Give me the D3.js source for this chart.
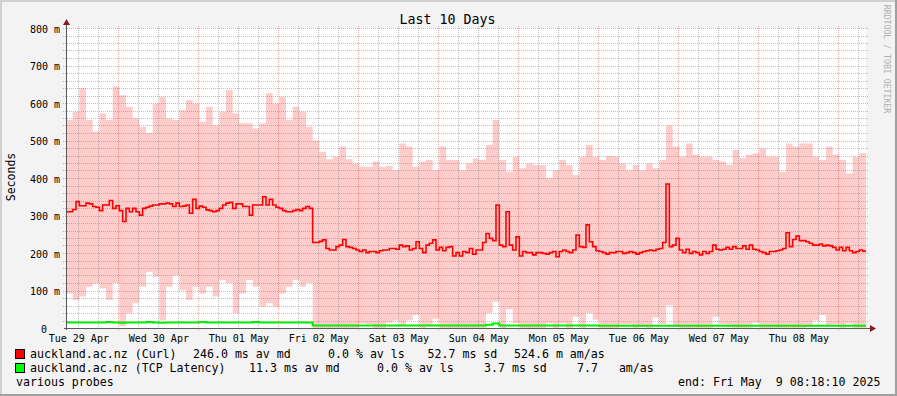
<!DOCTYPE html>
<html><head><meta charset="utf-8">
<script src="https://cdn.jsdelivr.net/npm/d3@7"></script>
<style>
html,body{margin:0;padding:0;background:#f3f3f3;}
svg{display:block;}
text{font-family:"DejaVu Sans Mono",monospace;}
</style>
</head><body>
<svg id="chart" width="897" height="396"></svg>
<script>
// ---------------- data ----------------
const chartTitle = "Last 10 Days";
const yAxisTitle = "Seconds";
const watermark = "RRDTOOL / TOBI OETIKER";
const startTime = Date.UTC(2025, 3, 29, 8, 18, 10);
const endTime = Date.UTC(2025, 4, 9, 8, 18, 10);
const yTickValues = [0, 100, 200, 300, 400, 500, 600, 700, 800];

// hourly median of Curl probe (ms)
const curlMedian = [
  310,310,316,337,326,326,333,331,324,322,
  313,328,328,340,319,326,313,284,319,310,
  319,310,301,319,322,325,328,328,331,331,
  333,331,324,333,324,325,328,306,343,319,
  325,322,315,313,310,313,319,328,333,335,
  319,331,331,324,324,301,328,328,328,350,
  328,343,328,322,319,313,310,310,313,316,
  313,319,324,319,228,228,231,235,212,208,
  208,217,221,236,217,215,212,208,204,208,
  201,204,204,201,206,208,208,212,212,210,
  221,217,219,208,212,230,212,201,221,226,
  235,208,215,206,215,217,192,201,192,204,
  201,212,197,208,208,228,252,239,233,328,
  221,217,310,221,208,243,192,204,201,201,
  195,201,201,199,197,201,204,190,204,208,
  204,201,208,248,217,215,275,230,217,206,
  204,201,197,201,201,204,204,199,201,204,
  201,197,201,204,206,208,206,210,212,228,
  384,217,221,239,208,201,210,199,204,201,
  195,204,199,204,221,210,208,210,215,210,
  217,212,212,219,210,221,210,208,204,201,
  197,204,204,206,208,212,254,217,236,245,
  233,233,230,226,221,221,224,219,221,219,
  215,208,215,206,215,206,201,204,208,205
];

// 2-hourly smoke envelope, upper and lower (ms)
const smokeTop = [
  555,577,640,555,524,572,555,644,621,590,
  559,537,520,599,617,559,555,581,608,599,
  550,590,541,577,635,572,546,546,532,546,
  626,599,617,555,590,577,537,500,470,450,
  457,484,450,439,430,430,444,430,432,421,
  492,484,430,444,448,421,484,448,448,421,
  439,452,448,488,555,448,417,457,426,439,
  435,435,400,421,448,435,408,457,488,457,
  448,459,457,439,421,435,421,439,426,448,
  540,484,457,492,462,457,457,448,444,435,
  475,453,462,466,479,457,457,417,492,484,
  492,492,457,448,484,462,448,412,457,466
];
const smokeBottom = [
  92,75,84,110,119,106,75,120,5,39,
  66,110,150,137,20,110,140,101,75,110,
  92,110,84,128,120,40,92,128,110,57,
  66,57,92,110,128,110,120,0,0,0,
  0,0,0,0,12,10,0,0,15,20,
  5,20,35,0,5,25,0,0,0,0,
  0,0,0,40,70,0,50,12,0,0,
  0,0,12,0,12,0,30,0,40,22,
  0,0,0,10,10,0,3,0,28,10,
  60,3,0,0,0,0,0,30,10,3,
  0,0,0,15,0,0,0,0,0,0,
  0,3,20,35,6,10,0,12,0,0
];

// 2-hourly TCP latency (ms)
const tcpLatency = [
  15,15,15,15,15,15,16,15,14,15,
  15,15,16,15,14,15,15,15,15,15,
  16,15,15,15,15,15,15,15,16,15,
  15,15,15,15,15,15,15,7,7,7,
  7,7,7,7,7,7,7,7,7,7,
  7,7,7,7,7,7,7,7,7,7,
  7,7,7,9,12,7,7,7,7,7,
  7,7,7,7,7,7,7,7,7,7,
  6,6,6,6,6,6,6,6,6,6,
  6,6,6,6,6,6,6,6,6,6,
  6,6,6,6,6,6,6,6,6,6,
  6,6,6,6,6,6,6,6,6,6
];

const seriesNames = ["auckland.ac.nz (Curl)", "auckland.ac.nz (TCP Latency)"];
const seriesColors = ["#ff0000", "#00f000"];
const curlStats = ["246.0 ms av md", "0.0 % av ls", "52.7 ms sd", "524.6 m am/as"];
const tcpStats = ["11.3 ms av md", "0.0 % av ls", "3.7 ms sd", "7.7   am/as"];
const footLeft = "various probes";
const footRight = "end: Fri May  9 08:18:10 2025";

// ---------------- drawing ----------------
const svg = d3.select("#chart");
const W = 897, H = 396;
const L = 66, R = 866, T = 28, B = 328;

svg.append("rect").attr("width", W).attr("height", H).attr("fill", "#f3f3f3");
svg.append("rect").attr("x", 0).attr("y", 0).attr("width", W).attr("height", 2).attr("fill", "#d0d0d0");
svg.append("rect").attr("x", 0).attr("y", 0).attr("width", 2).attr("height", H).attr("fill", "#d0d0d0");
svg.append("rect").attr("x", 0).attr("y", H - 2).attr("width", W).attr("height", 2).attr("fill", "#a0a0a0");
svg.append("rect").attr("x", W - 2).attr("y", 0).attr("width", 2).attr("height", H).attr("fill", "#a0a0a0");

const x = d3.scaleUtc().domain([startTime, endTime]).range([L, R]);
const y = d3.scaleLinear().domain([0, 800]).range([B, T]);

svg.append("rect").attr("x", L).attr("y", T).attr("width", R - L).attr("height", B - T).attr("fill", "#ffffff");

const HOUR = 3600e3;
const hourly = arr => arr.map((v, i) => ({ t: startTime + i * HOUR * (240 / arr.length), v }))
  .concat([{ t: endTime, v: arr[arr.length - 1] }]);

// smoke
const smokePts = smokeTop.map((v, i) => ({ t: startTime + i * 2 * HOUR, top: v, bot: smokeBottom[i] }))
  .concat([{ t: endTime, top: smokeTop[smokeTop.length - 1], bot: smokeBottom[smokeBottom.length - 1] }]);
svg.append("path")
  .datum(smokePts)
  .attr("fill", "#ffcccc")
  .attr("d", d3.area().curve(d3.curveStepAfter)
    .x(d => x(d.t)).y0(d => y(d.bot)).y1(d => y(d.top)));

// grid
const grid = svg.append("g");
const minorX = d3.utcHour.every(6).range(new Date(startTime), new Date(endTime)).filter(d => d.getUTCHours() !== 0);
const majorX = d3.utcDay.range(new Date(startTime), new Date(endTime));
grid.selectAll(".mx").data(minorX).join("line")
  .attr("x1", d => Math.round(x(d)) + 0.5).attr("x2", d => Math.round(x(d)) + 0.5)
  .attr("y1", T - 2).attr("y2", B)
  .attr("stroke", "rgba(130,130,130,0.5)").attr("stroke-dasharray", "1,1");
const minorY = d3.range(0, 801, 20).filter(v => v % 100 !== 0);
grid.selectAll(".my").data(minorY).join("line")
  .attr("x1", L - 3).attr("x2", R + 2)
  .attr("y1", d => Math.round(y(d)) + 0.5).attr("y2", d => Math.round(y(d)) + 0.5)
  .attr("stroke", "rgba(130,130,130,0.5)").attr("stroke-dasharray", "1,1");
grid.selectAll(".Mx").data(majorX).join("line")
  .attr("x1", d => Math.round(x(d)) + 0.5).attr("x2", d => Math.round(x(d)) + 0.5)
  .attr("y1", T - 2).attr("y2", B + 3)
  .attr("stroke", "rgba(240,60,60,0.45)").attr("stroke-dasharray", "1,1");
grid.selectAll(".My").data(yTickValues.filter(v => v > 0)).join("line")
  .attr("x1", L - 3).attr("x2", R + 2)
  .attr("y1", d => Math.round(y(d)) + 0.5).attr("y2", d => Math.round(y(d)) + 0.5)
  .attr("stroke", "rgba(240,60,60,0.45)").attr("stroke-dasharray", "1,1");

// median line
svg.append("path").datum(hourly(curlMedian))
  .attr("fill", "none").attr("stroke", seriesColors[0]).attr("stroke-width", 1.6)
  .attr("d", d3.line().curve(d3.curveStepAfter).x(d => x(d.t)).y(d => y(d.v)));
// tcp line
svg.append("path").datum(hourly(tcpLatency))
  .attr("fill", "none").attr("stroke", seriesColors[1]).attr("stroke-width", 2)
  .attr("d", d3.line().curve(d3.curveStepAfter).x(d => x(d.t)).y(d => y(d.v)));

// axes lines with arrows
svg.append("line").attr("x1", L + 0.5).attr("x2", L + 0.5).attr("y1", B + 2).attr("y2", T - 6)
  .attr("stroke", "#5a5a5a").attr("stroke-width", 1);
svg.append("line").attr("x1", L - 2).attr("x2", R + 6).attr("y1", B + 0.5).attr("y2", B + 0.5)
  .attr("stroke", "#5a5a5a").attr("stroke-width", 1);
svg.append("path").attr("d", `M${L - 3},${T - 3} L${L + 4},${T - 3} L${L + 0.5},${T - 9} Z`).attr("fill", "#8b1a1a");
svg.append("path").attr("d", `M${R + 4},${B - 3} L${R + 4},${B + 4} L${R + 10},${B + 0.5} Z`).attr("fill", "#8b1a1a");

// y axis labels
const yAxis = svg.append("g").attr("transform", `translate(${L},0)`)
  .call(d3.axisLeft(y).tickValues(yTickValues).tickSize(0).tickPadding(6)
    .tickFormat(v => v === 0 ? "0" : v + " m"));
yAxis.select(".domain").remove();
yAxis.selectAll("text").attr("font-family", "DejaVu Sans Mono").attr("font-size", 10)
  .attr("fill", "#000").attr("dy", "0.42em")
  .attr("dx", d => d === 0 ? -13 : 0);

// x axis labels
const noonTicks = d3.utcHour.range(new Date(startTime), new Date(endTime)).filter(d => d.getUTCHours() === 12);
const xAxis = svg.append("g").attr("transform", `translate(0,${B})`)
  .call(d3.axisBottom(x).tickValues(noonTicks).tickSize(0).tickFormat(d3.utcFormat("%a %d %b")));
xAxis.select(".domain").remove();
xAxis.selectAll("text").attr("font-family", "DejaVu Sans Mono").attr("font-size", 10)
  .attr("fill", "#000").attr("y", 13.5).attr("dy", 0);

// titles
svg.append("text").attr("x", 447.5).attr("y", 24).attr("text-anchor", "middle")
  .attr("font-size", 13.3).attr("fill", "#000").text(chartTitle);
svg.append("text").attr("transform", "translate(14.5,177) rotate(-90)").attr("text-anchor", "middle")
  .attr("font-size", 11.5).attr("fill", "#000").text(yAxisTitle);
svg.append("text").attr("transform", "translate(883.5,59) rotate(90)").attr("text-anchor", "middle")
  .attr("font-size", 8.2).attr("fill", "#b0b0b0").text(watermark);

// legend
const legendRows = [
  { name: seriesNames[0], color: seriesColors[0], stats: curlStats, xs: [193, 328, 427.5, 514], base: 358 },
  { name: seriesNames[1], color: "#00ff00", stats: tcpStats, xs: [249, 377, 484, 577], base: 372 }
];
legendRows.forEach(r => {
  svg.append("rect").attr("x", 15.5).attr("y", r.base - 8.5).attr("width", 9).attr("height", 9)
    .attr("fill", r.color).attr("stroke", "#000").attr("stroke-width", 1);
  svg.append("text").attr("x", 30).attr("y", r.base).attr("font-size", 11.6).attr("fill", "#000")
    .style("white-space", "pre").text(r.name);
  r.stats.forEach((s, i) => {
    svg.append("text").attr("x", r.xs[i]).attr("y", r.base).attr("font-size", 11.6).attr("fill", "#000")
      .style("white-space", "pre").text(s);
  });
});
svg.append("text").attr("x", 16).attr("y", 386).attr("font-size", 11.6).attr("fill", "#000").text(footLeft);
svg.append("text").attr("x", 678).attr("y", 386).attr("font-size", 11.6).attr("fill", "#000")
  .style("white-space", "pre").text(footRight);
</script>
</body></html>
